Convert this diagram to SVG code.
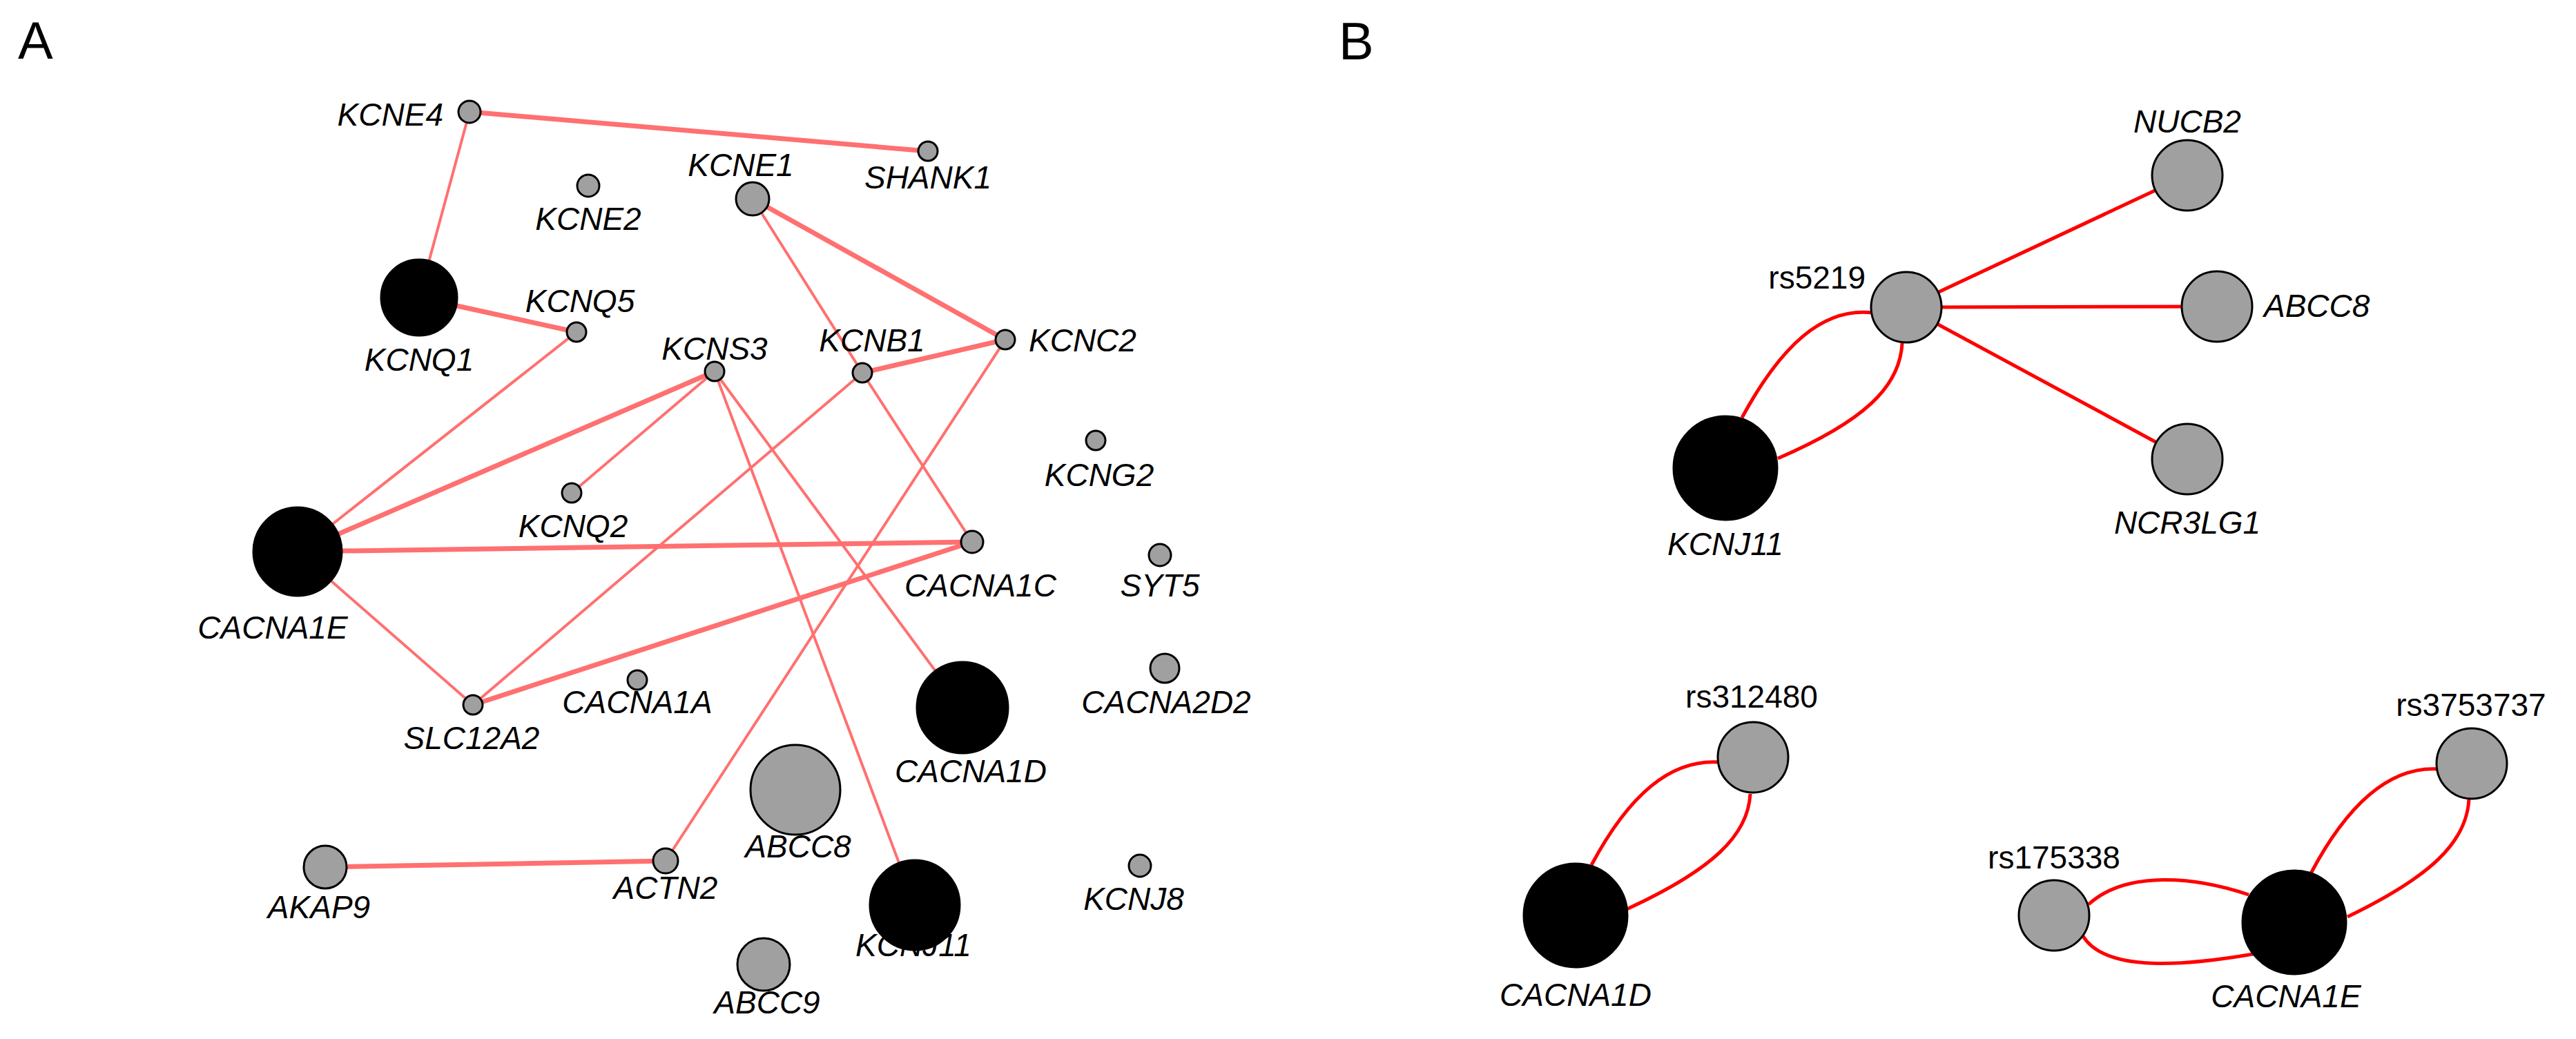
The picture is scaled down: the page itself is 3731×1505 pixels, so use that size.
<svg xmlns="http://www.w3.org/2000/svg" width="3731" height="1505" viewBox="0 0 3731 1505">
<style>
text{font-family:"Liberation Sans",Arial,sans-serif;font-size:46px;fill:#000}
.g{font-style:italic;text-anchor:middle}
.r{text-anchor:middle}
.ea{stroke:#ff7070;stroke-width:4;fill:none}
.et{stroke:#ff7070;stroke-width:7;fill:none}
.eb{stroke:#ff0000;stroke-width:5;fill:none}
.n{fill:#a0a0a0;stroke:#000;stroke-width:3}
.k{fill:#000;stroke:#000;stroke-width:3}
</style>
<rect width="3731" height="1505" fill="#fff"/>
<text x="26" y="85" style="font-size:76px">A</text>
<text x="1939" y="86" style="font-size:76px">B</text>
<g id="connectors">
<line class="et" x1="680" y1="162" x2="1344" y2="219"/>
<line class="ea" x1="680" y1="162" x2="607" y2="431"/>
<line class="et" x1="607" y1="431" x2="835" y2="481"/>
<line class="ea" x1="1090" y1="288" x2="1249" y2="540"/>
<line class="et" x1="1090" y1="288" x2="1456" y2="492"/>
<line class="et" x1="1249" y1="540" x2="1456" y2="492"/>
<line class="ea" x1="835" y1="481" x2="431" y2="799"/>
<line class="et" x1="1035" y1="538" x2="431" y2="799"/>
<line class="ea" x1="1035" y1="538" x2="828" y2="714"/>
<line class="ea" x1="1035" y1="538" x2="1325" y2="1311"/>
<line class="ea" x1="1035" y1="538" x2="1394" y2="1025"/>
<line class="ea" x1="1249" y1="540" x2="685" y2="1021"/>
<line class="ea" x1="1249" y1="540" x2="1408" y2="785"/>
<line class="ea" x1="1456" y1="492" x2="964" y2="1247"/>
<line class="et" x1="431" y1="799" x2="1408" y2="785"/>
<line class="ea" x1="431" y1="799" x2="685" y2="1021"/>
<line class="et" x1="685" y1="1021" x2="1408" y2="785"/>
<line class="et" x1="471" y1="1256" x2="964" y2="1247"/>
<line class="eb" x1="2761" y1="445" x2="3168" y2="254"/>
<line class="eb" x1="2761" y1="445" x2="3211" y2="444"/>
<line class="eb" x1="2761" y1="445" x2="3168" y2="665"/>
<path class="eb" d="M2712,453 C2640,445 2580,500 2523,605"/>
<path class="eb" d="M2755,497 C2752,560 2700,610 2575,664"/>
<path class="eb" d="M2489,1104 C2420,1100 2360,1150 2305,1253"/>
<path class="eb" d="M2535,1150 C2532,1210 2480,1260 2356,1317"/>
<path class="eb" d="M3531,1114 C3460,1110 3400,1165 3347,1265"/>
<path class="eb" d="M3576,1157 C3573,1220 3520,1270 3400,1328"/>
<path class="eb" d="M3025,1310 C3080,1260 3180,1270 3257,1296"/>
<path class="eb" d="M3017,1356 C3050,1410 3170,1398 3263,1382"/>
</g>
<g id="KCNE4"><circle class="n" cx="680" cy="162" r="16"/><text x="642" y="182" style="font-style:italic;text-anchor:end">KCNE4</text></g>
<g id="SHANK1"><circle class="n" cx="1344" cy="219" r="14"/><text class="g" x="1344" y="273">SHANK1</text></g>
<g id="KCNE2"><circle class="n" cx="852" cy="269" r="16"/><text class="g" x="852" y="333">KCNE2</text></g>
<g id="KCNE1"><circle class="n" cx="1090" cy="288" r="24"/><text class="g" x="1073" y="255">KCNE1</text></g>
<g id="KCNQ1"><circle class="k" cx="607" cy="431" r="55"/><text class="g" x="607" y="537">KCNQ1</text></g>
<g id="KCNQ5"><circle class="n" cx="835" cy="481" r="14"/><text class="g" x="840" y="452">KCNQ5</text></g>
<g id="KCNS3"><circle class="n" cx="1035" cy="538" r="14"/><text class="g" x="1035" y="521">KCNS3</text></g>
<g id="KCNB1"><circle class="n" cx="1249" cy="540" r="14"/><text class="g" x="1263" y="509">KCNB1</text></g>
<g id="KCNC2"><circle class="n" cx="1456" cy="492" r="14"/><text x="1490" y="509" style="font-style:italic">KCNC2</text></g>
<g id="KCNG2"><circle class="n" cx="1587" cy="638" r="14"/><text class="g" x="1592" y="704">KCNG2</text></g>
<g id="KCNQ2"><circle class="n" cx="828" cy="714" r="14"/><text class="g" x="830" y="778">KCNQ2</text></g>
<g id="CACNA1E_A"><circle class="k" cx="431" cy="799" r="64"/><text class="g" x="395" y="925">CACNA1E</text></g>
<g id="CACNA1C"><circle class="n" cx="1408" cy="785" r="16"/><text class="g" x="1420" y="864">CACNA1C</text></g>
<g id="SYT5"><circle class="n" cx="1680" cy="804" r="16"/><text class="g" x="1680" y="864">SYT5</text></g>
<g id="SLC12A2"><circle class="n" cx="685" cy="1021" r="14"/><text class="g" x="683" y="1085">SLC12A2</text></g>
<g id="CACNA1A"><circle class="n" cx="923" cy="985" r="14"/><text class="g" x="923" y="1033">CACNA1A</text></g>
<g id="CACNA1D_A"><circle class="k" cx="1394" cy="1025" r="66"/><text class="g" x="1406" y="1133">CACNA1D</text></g>
<g id="CACNA2D2"><circle class="n" cx="1687" cy="968" r="21"/><text class="g" x="1689" y="1033">CACNA2D2</text></g>
<g id="ABCC8_A"><circle class="n" cx="1152" cy="1144" r="65"/><text class="g" x="1156" y="1242">ABCC8</text></g>
<g id="AKAP9"><circle class="n" cx="471" cy="1256" r="31"/><text class="g" x="462" y="1330">AKAP9</text></g>
<g id="ACTN2"><circle class="n" cx="964" cy="1247" r="18"/><text class="g" x="964" y="1302">ACTN2</text></g>
<g id="KCNJ11_A"><circle class="k" cx="1325" cy="1311" r="65"/><text class="g" x="1323" y="1385">KCNJ11</text></g>
<g id="KCNJ8"><circle class="n" cx="1651" cy="1254" r="16"/><text class="g" x="1642" y="1318">KCNJ8</text></g>
<g id="ABCC9"><circle class="n" cx="1106" cy="1397" r="38"/><text class="g" x="1111" y="1468">ABCC9</text></g>
<g id="rs5219"><circle class="n" cx="2761" cy="445" r="51"/><text x="2702" y="418" style="text-anchor:end">rs5219</text></g>
<g id="NUCB2"><circle class="n" cx="3168" cy="254" r="51"/><text class="g" x="3168" y="192">NUCB2</text></g>
<g id="ABCC8_B"><circle class="n" cx="3211" cy="444" r="51"/><text x="3279" y="459" style="font-style:italic">ABCC8</text></g>
<g id="NCR3LG1"><circle class="n" cx="3168" cy="665" r="51"/><text class="g" x="3168" y="773">NCR3LG1</text></g>
<g id="KCNJ11_B"><circle class="k" cx="2499" cy="678" r="75"/><text class="g" x="2499" y="804">KCNJ11</text></g>
<g id="rs312480"><circle class="n" cx="2539" cy="1097" r="51"/><text class="r" x="2537" y="1025">rs312480</text></g>
<g id="CACNA1D_B"><circle class="k" cx="2282" cy="1326" r="75"/><text class="g" x="2282" y="1457">CACNA1D</text></g>
<g id="rs3753737"><circle class="n" cx="3580" cy="1106" r="51"/><text class="r" x="3579" y="1037">rs3753737</text></g>
<g id="rs175338"><circle class="n" cx="2975" cy="1326" r="51"/><text class="r" x="2975" y="1258">rs175338</text></g>
<g id="CACNA1E_B"><circle class="k" cx="3323" cy="1336" r="75"/><text class="g" x="3311" y="1459">CACNA1E</text></g>
</svg>
